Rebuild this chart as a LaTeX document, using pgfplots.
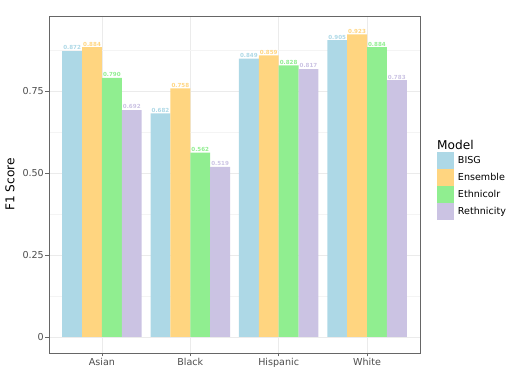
\documentclass[border=0pt]{standalone}
\usepackage{fontspec}
\setmainfont{DejaVu Sans}
\usepackage{pgfplots}
\pgfplotsset{compat=1.18}
\definecolor{cBISG}{HTML}{ADD8E6}
\definecolor{cEns}{HTML}{FFD580}
\definecolor{cEth}{HTML}{90EE90}
\definecolor{cReth}{HTML}{CBC3E3}
\definecolor{gridmaj}{HTML}{EBEBEB}
\definecolor{gridmin}{HTML}{F4F4F4}
\definecolor{framec}{HTML}{666666}
\definecolor{tickc}{HTML}{4D4D4D}

\begin{document}
\begin{tikzpicture}
\path[use as bounding box] (-49bp,-31bp) rectangle (463bp,353bp);
\begin{axis}[
  at={(0,0)}, anchor=south west,
  scale only axis, width=371bp, height=337bp,
  ybar=0pt, bar width=0.225,
  legend image code/.code={\fill[#1] (0bp,-8.5bp) rectangle (17bp,8.5bp);},
  xmin=-0.6, xmax=3.6, ymin=-0.0488, ymax=0.9788,
  xtick={0,1,2,3}, xticklabels={Asian,Black,Hispanic,White},
  ytick={0,0.25,0.5,0.75}, yticklabels={0,0.25,0.50,0.75},
  minor ytick={0.125,0.375,0.625,0.875},
  xmajorgrids, ymajorgrids, yminorgrids,
  major grid style={gridmaj, line width=0.8bp},
  minor grid style={gridmin, line width=0.6bp},
  axis line style={framec, line width=0.9bp},
  tick style={framec, line width=0.9bp},
  tick align=outside, major tick length=3.5bp, minor tick length=0pt,
  xtick pos=bottom, ytick pos=left,
  ticklabel style={font=\fontsize{9.6}{11}\selectfont, text=tickc, inner sep=1.5bp},
  ylabel={F1 Score},
  ylabel style={font=\fontsize{12.2}{14}\selectfont, at={(axis description cs:-0.105,0.5)}, anchor=center},
  legend style={at={(rel axis cs:1.0458,0.5964)}, anchor=north west, draw=none, fill=none,
    inner sep=0pt, outer sep=0pt, row sep=0bp, column sep=4bp,
    font=\fontsize{9.6}{11}\selectfont, cells={anchor=west}, nodes={inner sep=0pt}},
  nodes near coords={\pgfmathprintnumber[fixed,fixed zerofill,precision=3,assume math mode=true]{\pgfplotspointmeta}},
  nodes near coords style={font=\bfseries\fontsize{5.6}{6}\selectfont, anchor=south, inner sep=0.8bp},
]
\addplot[fill=cBISG, draw=none, every node near coord/.append style={text=cBISG}]
  coordinates {(0,0.872) (1,0.682) (2,0.849) (3,0.905)};
\addplot[fill=cEns, draw=none, every node near coord/.append style={text=cEns}]
  coordinates {(0,0.884) (1,0.758) (2,0.859) (3,0.923)};
\addplot[fill=cEth, draw=none, every node near coord/.append style={text=cEth}]
  coordinates {(0,0.790) (1,0.562) (2,0.828) (3,0.884)};
\addplot[fill=cReth, draw=none, every node near coord/.append style={text=cReth}]
  coordinates {(0,0.692) (1,0.519) (2,0.817) (3,0.783)};
\legend{BISG,Ensemble,Ethnicolr,Rethnicity}
\end{axis}
\node[anchor=west, inner sep=0pt, font=\fontsize{12.2}{14}\selectfont] at (388bp,208bp) {Model};
\end{tikzpicture}
\end{document}
